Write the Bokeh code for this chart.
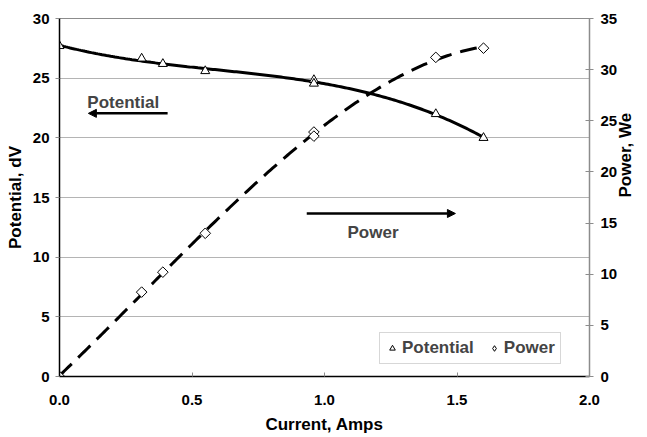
import numpy as np
from bokeh.plotting import figure
from bokeh.models import (Range1d, LinearAxis, FixedTicker, Legend, LegendItem,
                          Arrow, NormalHead, Label, CustomJSTickFormatter)
from bokeh.embed import file_html
from bokeh.resources import INLINE

# Measured cell data
current = [0.0, 0.31, 0.39, 0.55, 0.96, 0.96, 1.42, 1.60]
potential_dv = [27.7, 26.65, 26.2, 25.6, 24.85, 24.55, 22.0, 20.0]
power_we = [0.0, 8.25, 10.2, 14.0, 23.9, 23.5, 31.2, 32.1]

left_ticks = [0, 5, 10, 15, 20, 25, 30]
right_ticks = [0, 5, 10, 15, 20, 25, 30, 35]
x_ticks = [0.0, 0.5, 1.0, 1.5, 2.0]

FONT = "Liberation Sans"
GRAY = "#8c8c8c"

p = figure(width=647, height=437, output_backend="svg", toolbar_location=None,
           x_range=Range1d(0, 2), y_range=Range1d(0, 30),
           min_border_left=59, min_border_right=54, min_border_top=18,
           min_border_bottom=61)
p.extra_y_ranges = {"pow": Range1d(0, 35)}

p.outline_line_color = GRAY
p.outline_line_width = 1
p.xgrid.visible = False
p.ygrid.ticker = FixedTicker(ticks=left_ticks)
p.ygrid.grid_line_color = "#b4b4b4"
p.ygrid.grid_line_width = 1

# Bottom axis
xa = p.xaxis[0]
xa.ticker = FixedTicker(ticks=x_ticks)
xa.formatter = CustomJSTickFormatter(code="return tick.toFixed(1);")
xa.axis_line_color = "black"
xa.axis_line_width = 1.5
xa.major_tick_in = 4
xa.major_tick_out = 0
xa.major_tick_line_color = GRAY
xa.minor_tick_line_color = None
xa.major_label_standoff = 18
xa.axis_label = "Current, Amps"
xa.axis_label_standoff = 7

# Left axis
ya = p.yaxis[0]
ya.ticker = FixedTicker(ticks=left_ticks)
ya.axis_line_color = "black"
ya.axis_line_width = 1.5
ya.major_tick_in = 0
ya.major_tick_out = 4
ya.major_tick_line_color = GRAY
ya.minor_tick_line_color = None
ya.major_label_standoff = 6
ya.axis_label = "Potential, dV"
ya.axis_label_standoff = 5

# Right axis for power, its title turned to read upward
ra = LinearAxis(y_range_name="pow", ticker=FixedTicker(ticks=right_ticks))
ra.axis_line_color = GRAY
ra.axis_line_width = 1.5
ra.major_tick_in = 4
ra.major_tick_out = 4
ra.major_tick_line_color = GRAY
ra.minor_tick_line_color = None
ra.major_label_standoff = 7
ra.axis_label = "Power, We"
ra.axis_label_standoff = 5
if "axis_label_orientation" in ra.properties():
    ra.axis_label_orientation = np.pi / 2
p.add_layout(ra, "right")

for ax in (xa, ya, ra):
    ax.major_label_text_font = FONT
    ax.major_label_text_font_style = "bold"
    ax.major_label_text_font_size = "15px"
    ax.major_label_text_color = "black"
    ax.axis_label_text_font = FONT
    ax.axis_label_text_font_style = "bold"
    ax.axis_label_text_font_size = "17px"
    ax.axis_label_text_color = "black"

# Polynomial trendlines fitted to the measurements
xs = np.linspace(0, 1.6, 200)
pot_fit = np.polyval(np.polyfit(current, potential_dv, 3), xs)
pow_fit = np.polyval(np.polyfit(current, power_we, 3), xs)

p.line(xs, pot_fit, line_color="black", line_width=3)
p.line(xs, pow_fit, line_color="black", line_width=3, line_dash="17 9",
       y_range_name="pow")

tri = p.scatter(current, potential_dv, marker="triangle", size=9,
                fill_color="white", line_color="black", line_width=1)
# Diamond swatch for the legend, sitting under the first power marker
dia_key = p.scatter(current[:1], power_we[:1], marker="diamond", size=10,
                    fill_color="white", line_color="black", line_width=1,
                    y_range_name="pow")
p.scatter(current, power_we, marker="square", angle=np.pi / 4, size=7.5,
          fill_color="white", line_color="black", line_width=1,
          y_range_name="pow")

legend = Legend(items=[LegendItem(label="Potential", renderers=[tri]),
                       LegendItem(label="Power", renderers=[dia_key])],
                orientation="horizontal", location=(320, 12),
                label_text_font=FONT, label_text_font_style="bold",
                label_text_font_size="17px", glyph_width=14, glyph_height=18,
                label_standoff=3, spacing=13, padding=5, margin=0,
                border_line_color="#b0b0b0", border_line_width=1,
                background_fill_color="white", background_fill_alpha=1)
p.add_layout(legend, "center")

# Direction annotations
p.add_layout(Arrow(end=NormalHead(size=8, fill_color="black", line_color="black"),
                   x_start=0.408, y_start=22.05, x_end=0.109, y_end=22.05,
                   line_width=2.5, line_color="black"))
p.add_layout(Label(x=0.105, y=22.97, text="Potential", text_font=FONT,
                   text_font_style="bold", text_font_size="17px",
                   text_baseline="middle", text_align="left"))
p.add_layout(Arrow(end=NormalHead(size=8, fill_color="black", line_color="black"),
                   x_start=0.933, y_start=13.66, x_end=1.494, y_end=13.66,
                   line_width=2.5, line_color="black"))
p.add_layout(Label(x=1.183, y=12.07, text="Power", text_font=FONT,
                   text_font_style="bold", text_font_size="17px",
                   text_baseline="middle", text_align="center"))

open("out.html", "w").write(file_html(p, INLINE))
